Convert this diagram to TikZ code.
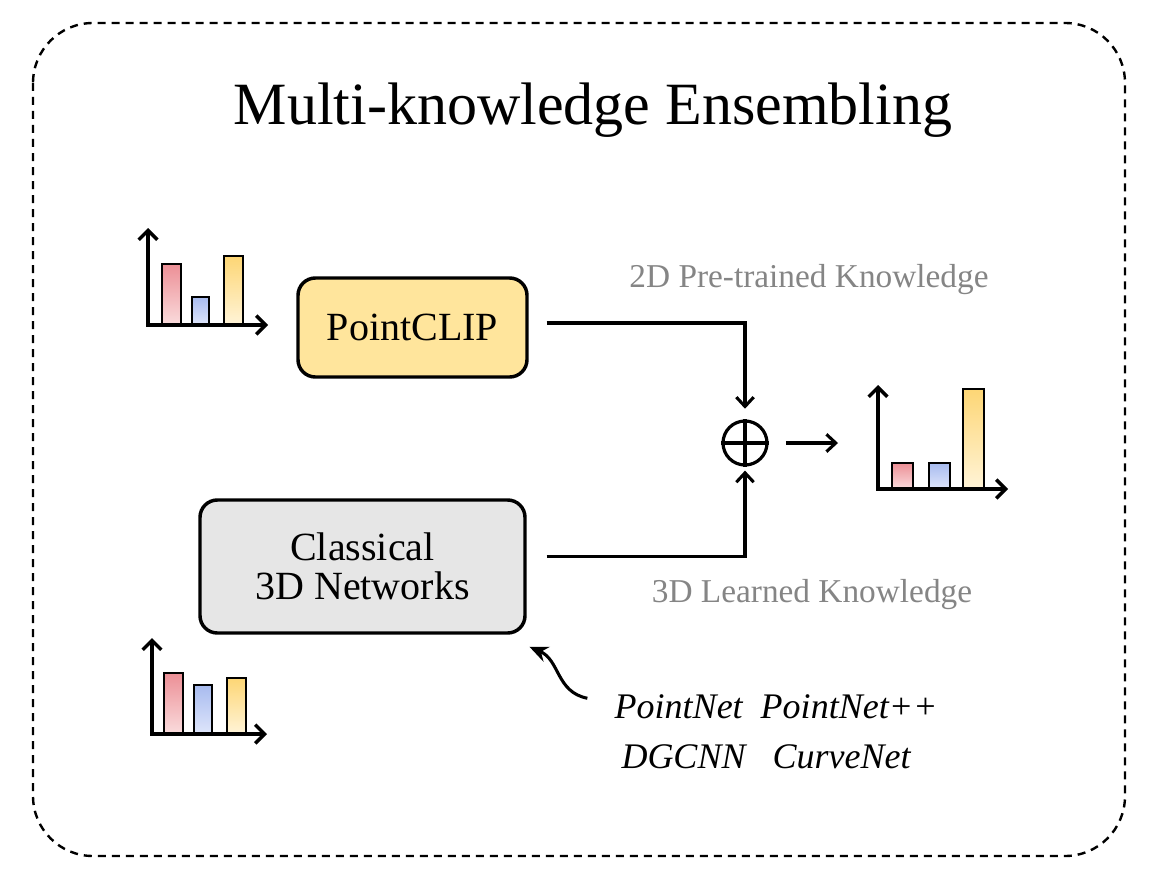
\documentclass[tikz,border=0pt]{standalone}
\usepackage{fontspec}
\setmainfont{Liberation Serif}
\usepackage{tikz}
\usetikzlibrary{positioning,arrows.meta,calc}
\definecolor{kYellow}{HTML}{FFE59C}
\definecolor{kGray}{HTML}{E6E6E6}
\definecolor{kLabel}{HTML}{858585}
\definecolor{kRedTop}{HTML}{EC8F96}
\definecolor{kRedBot}{HTML}{FADCDD}
\definecolor{kBlueTop}{HTML}{A8BBEF}
\definecolor{kBlueBot}{HTML}{DFE6FB}
\definecolor{kGoldTop}{HTML}{FDD675}
\definecolor{kGoldBot}{HTML}{FFF4D8}

\begin{document}
\begin{tikzpicture}[x=0.75pt,y=-0.75pt,
  box/.style={draw=black, line width=2.6pt, rounded corners=13pt, align=center, inner sep=0pt, font=\fontsize{30}{29}\selectfont},
  flow/.style={-{Straight Barb[length=7pt,width=13pt]}, line width=2.3pt},
  axis/.style={{Straight Barb[length=7pt,width=14pt]}-{Straight Barb[length=7pt,width=14pt]}, line width=2.6pt},
  bar/.style={draw=black, line width=1.9pt},
  knowl/.style={text=kLabel, font=\fontsize{25}{28}\selectfont, anchor=base},
  netname/.style={font=\fontsize{27}{32}\selectfont\itshape, anchor=base}]
\useasboundingbox (0,0) rectangle (1162,888);
\draw[dash pattern=on 6pt off 4.5pt, line width=1.8pt, rounded corners=45pt] (33,23) rectangle (1125,856);
\node[anchor=base, font=\fontsize{45}{54}\selectfont] (title) at (593,125) {Multi-knowledge Ensembling};

\node[box, fill=kYellow, minimum width=171.75pt, minimum height=74.25pt] (pointclip) at (412.5,327.5) {PointCLIP};
\node[box, fill=kGray, minimum width=243.75pt, minimum height=99.75pt] (classical) at (362.5,566.5) {Classical\\3D Networks};
\node[circle, draw, line width=2.4pt, minimum size=33pt, inner sep=0pt] (plus) at (745,443) {};
\draw[line width=2.4pt] (plus.north) -- (plus.south) (plus.west) -- (plus.east);
\coordinate (outin) at (838,443);

\node[knowl] (know2d) at (809,287) {2D Pre-trained Knowledge};
\node[knowl] (know3d) at (812,602) {3D Learned Knowledge};
\node[netname] (net1) at (776,718) {PointNet\ \ PointNet++};
\node[netname] (net2) at (766,768) {DGCNN\ \ \ CurveNet};

\draw[flow, shorten >=8pt] ([xshift=13.5pt, yshift=3.4pt]pointclip.east) -| (plus.north);
\draw[flow, shorten >=3pt] ([xshift=15pt, yshift=7.5pt]classical.east) -| (plus.south);
\draw[flow] ([xshift=13pt]plus.east) -- (outin);
\draw[-{Stealth[length=14pt,width=12pt]}, line width=2.3pt] ([xshift=-17pt, yshift=6pt]net1.west) .. controls (556,692) and (560,660) .. ([shift={(2pt,-9pt)}]classical.south east);

\foreach \xa/\xb/\yt/\c in {162/181/264/kRed, 192/209/297/kBlue, 224/243/256/kGold,
  164/183/673/kRed, 194/212/685/kBlue, 227/246/678/kGold}
  \filldraw[bar, top color=\c Top, bottom color=\c Bot] (\xa,\yt) rectangle (\xb,{\yt<500 ? 325 : 734});
\foreach \xa/\xb/\yt/\c in {892/913/463/kRed, 929/950/463/kBlue, 963/984/389/kGold}
  \filldraw[bar, top color=\c Top, bottom color=\c Bot] (\xa,\yt) rectangle (\xb,489);
\draw[axis] (148,228) -- (148,325) -- (268,325);
\draw[axis] (152,638) -- (152,734) -- (267,734);
\draw[axis] (878,385) -- (878,489) -- (1008,489);
\end{tikzpicture}
\end{document}
